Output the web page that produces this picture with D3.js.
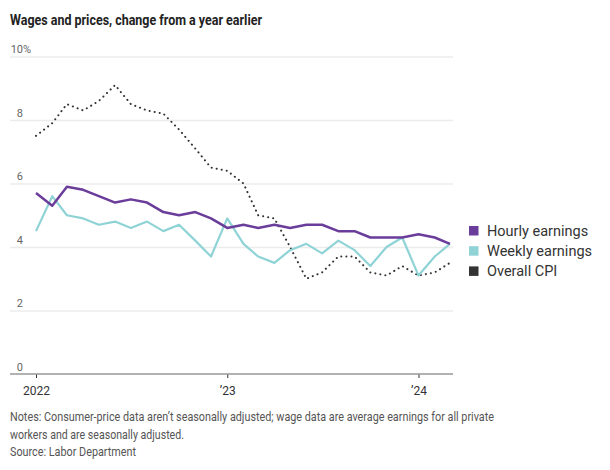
<!DOCTYPE html>
<html>
<head>
<meta charset="utf-8">
<script src="https://cdn.jsdelivr.net/npm/d3@7"></script>
<style>
  html, body { margin: 0; padding: 0; background: #fff; }
  svg { display: block; }
</style>
</head>
<body>
<svg id="chart" width="610" height="470"></svg>
<script>
// ---- Data (year-over-year % change, monthly Jan 2022 – Mar 2024) ----
const startYear = 2022, startMonth = 0, nMonths = 27;
const hourly = [5.7,5.3,5.9,5.8,5.6,5.4,5.5,5.4,5.1,5.0,5.1,4.9,
                4.6,4.7,4.6,4.7,4.6,4.7,4.7,4.5,4.5,4.3,4.3,4.3,
                4.4,4.3,4.1];
const weekly = [4.5,5.6,5.0,4.9,4.7,4.8,4.6,4.8,4.5,4.7,4.2,3.7,
                4.9,4.1,3.7,3.5,3.9,4.1,3.8,4.2,3.9,3.4,4.0,4.3,
                3.1,3.7,4.1];
const cpi    = [7.5,7.9,8.5,8.3,8.6,9.1,8.5,8.3,8.2,7.7,7.1,6.5,
                6.4,6.0,5.0,4.9,4.0,3.0,3.2,3.7,3.7,3.2,3.1,3.4,
                3.1,3.2,3.5];
const yTicks = [0,2,4,6,8,10];
const xTickDates = [new Date(2022,0,1), new Date(2023,0,1), new Date(2024,0,1)];
const xTickLabels = ["2022", "\u201923", "\u201924"];
const seriesNames = ["Hourly earnings", "Weekly earnings", "Overall CPI"];
const seriesColors = ["#6a3d9a", "#8fd3d6", "#333333"];
const title = "Wages and prices, change from a year earlier";
const notes = [
  "Notes: Consumer-price data aren\u2019t seasonally adjusted; wage data are average earnings for all private",
  "workers and are seasonally adjusted.",
  "Source: Labor Department"
];
const noteWidths = [484, 174, 126];

const months = d3.range(nMonths).map(i => new Date(startYear, startMonth + i, 1));

const svg = d3.select("#chart");
const font = "Roboto, 'Noto Sans', sans-serif";

const plotLeft = 10, plotRight = 453;
const x = d3.scaleTime()
  .domain([new Date(2022,0,1), new Date(2024,0,1)])
  .range([36, 418.5]);
const y = d3.scaleLinear().domain([0, 10]).range([374, 56.5]);

// Title
svg.append("text")
  .attr("x", 10).attr("y", 24.5)
  .attr("font-family", font)
  .attr("font-weight", "bold")
  .attr("font-size", 15)
  .attr("fill", "#222")
  .attr("textLength", 252)
  .attr("lengthAdjust", "spacingAndGlyphs")
  .text(title);

// Gridlines & y labels
const yAxis = d3.axisLeft(y)
  .tickValues(yTicks)
  .tickSize(-(plotRight - plotLeft))
  .tickFormat(d => d);
const gy = svg.append("g")
  .attr("transform", `translate(${plotLeft},0)`)
  .call(yAxis);
gy.select(".domain").remove();
gy.selectAll(".tick line")
  .attr("stroke", d => d === 0 ? "none" : "#ececec")
  .attr("stroke-width", 1.5);
gy.selectAll(".tick text")
  .attr("x", 13)
  .attr("dy", -4)
  .attr("text-anchor", "end")
  .attr("font-family", font)
  .attr("font-size", 11)
  .attr("fill", "#666");
gy.selectAll(".tick").filter(d => d === 10)
  .append("text")
  .attr("x", 13).attr("dy", -4)
  .attr("text-anchor", "start")
  .attr("font-family", font)
  .attr("font-size", 11)
  .attr("fill", "#666")
  .text("%");

// X axis
const xAxis = d3.axisBottom(x)
  .tickValues(xTickDates)
  .tickSize(4)
  .tickSizeOuter(0)
  .tickPadding(8)
  .tickFormat((d, i) => xTickLabels[i]);
const gx = svg.append("g")
  .attr("transform", `translate(0,${y(0)})`)
  .call(xAxis);
gx.select(".domain").remove();
gx.append("line")
  .attr("x1", plotLeft).attr("x2", plotRight)
  .attr("y1", 0).attr("y2", 0)
  .attr("stroke", "#999").attr("stroke-width", 1.5);
gx.selectAll(".tick line").attr("stroke", "#333").attr("stroke-width", 1);
gx.selectAll(".tick text")
  .attr("font-family", font)
  .attr("font-size", 12)
  .attr("fill", "#333");

// Lines
const line = d3.line()
  .x((d, i) => x(months[i]))
  .y(d => y(d));

svg.append("path")
  .datum(cpi)
  .attr("d", line)
  .attr("fill", "none")
  .attr("stroke", seriesColors[2])
  .attr("stroke-width", 2)
  .attr("stroke-linecap", "round")
  .attr("stroke-dasharray", "0.1,5");

svg.append("path")
  .datum(weekly)
  .attr("d", line)
  .attr("fill", "none")
  .attr("stroke", seriesColors[1])
  .attr("stroke-width", 2.2)
  .attr("stroke-linejoin", "round");

svg.append("path")
  .datum(hourly)
  .attr("d", line)
  .attr("fill", "none")
  .attr("stroke", seriesColors[0])
  .attr("stroke-width", 2.5)
  .attr("stroke-linejoin", "round");

// Legend
const legend = svg.append("g").attr("transform", "translate(469,230.5)");
seriesNames.forEach((name, i) => {
  const g = legend.append("g").attr("transform", `translate(0,${i * 20.2})`);
  g.append("rect")
    .attr("x", 0).attr("y", -4.5).attr("width", 9.5).attr("height", 9.5)
    .attr("fill", seriesColors[i]);
  g.append("text")
    .attr("x", 18).attr("y", 0).attr("dy", "0.35em")
    .attr("font-family", font)
    .attr("font-size", 14.5)
    .attr("fill", "#333")
    .text(name);
});

// Notes
notes.forEach((t, i) => {
  svg.append("text")
    .attr("x", 10).attr("y", 421 + i * 17.5)
    .attr("font-family", font)
    .attr("font-size", 13)
    .attr("fill", "#555")
    .attr("textLength", noteWidths[i])
    .attr("lengthAdjust", "spacingAndGlyphs")
    .text(t);
});
</script>
</body>
</html>
